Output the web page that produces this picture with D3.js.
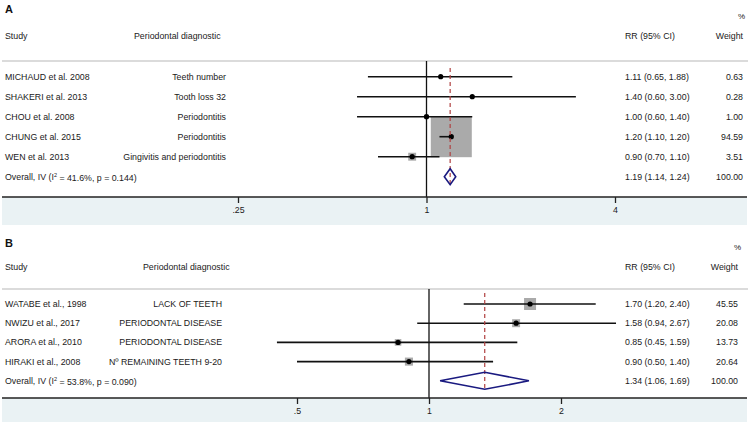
<!DOCTYPE html>
<html><head><meta charset="utf-8">
<script src="https://cdn.jsdelivr.net/npm/d3@7"></script>
<style>
html,body{margin:0;padding:0;background:#fff;}
text{font-family:"Liberation Sans",Arial,Helvetica,sans-serif;fill:#1a1a1a;}
</style></head>
<body><svg id="c" width="750" height="423"></svg>
<script>
// ---------- Panel A data ----------
const studiesA = ["MICHAUD et al. 2008","SHAKERI et al. 2013","CHOU et al. 2008","CHUNG et al. 2015","WEN et al. 2013"];
const diagA = ["Teeth number","Tooth loss 32","Periodontitis","Periodontitis","Gingivitis and periodontitis"];
const rrA = [1.11,1.40,1.00,1.20,0.90];
const loA = [0.65,0.60,0.60,1.10,0.70];
const hiA = [1.88,3.00,1.40,1.20,1.10];
const weightA = [0.63,0.28,1.00,94.59,3.51];
const overallA = {i2:"41.6%", p:"0.144", rr:1.19, lo:1.14, hi:1.24, weight:100.00};
const ticksA = [0.25,1,4];
const tickLabelsA = [".25","1","4"];

// ---------- Panel B data ----------
const studiesB = ["WATABE et al., 1998","NWIZU et al., 2017","ARORA et al., 2010","HIRAKI et al., 2008"];
const diagB = ["LACK OF TEETH","PERIODONTAL DISEASE","PERIODONTAL DISEASE","Nº REMAINING TEETH 9-20"];
const rrB = [1.70,1.58,0.85,0.90];
const loB = [1.20,0.94,0.45,0.50];
const hiB = [2.40,2.67,1.59,1.40];
const weightB = [45.55,20.08,13.73,20.64];
const overallB = {i2:"53.8%", p:"0.090", rr:1.34, lo:1.06, hi:1.69, weight:100.00};
const ticksB = [0.5,1,2];
const tickLabelsB = [".5","1","2"];

const svg = d3.select("#c");
const fmt = d3.format(".2f");
const FS = 8.8;

function panel(cfg){
  const g = svg.append("g");
  const n = cfg.studies.length;
  const x = d3.scaleLog().base(2).domain(cfg.domain).range(cfg.range);
  const y = i => cfg.row0 + i*cfg.step;
  const yO = y(n);
  const box = d3.scaleSqrt().domain([0, d3.max(cfg.weight)]).range([0, cfg.boxMax]);

  g.append("rect").attr("x",2).attr("y",cfg.axisY).attr("width",745).attr("height",cfg.bandH).attr("fill","#eaf2f4");

  g.append("text").attr("x",5).attr("y",cfg.letterY).attr("dy","0.35em")
    .style("font-size","11px").style("font-weight","bold").style("fill","#111").text(cfg.letter);
  g.append("text").attr("x",cfg.pctX).attr("y",cfg.pctY).attr("dy","0.35em").attr("text-anchor","end")
    .style("font-size","8px").text("%");
  const hd = [["Study",5,"start"],["Periodontal diagnostic",cfg.diagHX,"start"],["RR (95% CI)",625,"start"],["Weight",cfg.wX,"end"]];
  hd.forEach(h=>g.append("text").attr("x",h[1]).attr("y",cfg.headY).attr("dy","0.35em")
    .attr("text-anchor",h[2]).style("font-size",FS+"px").text(h[0]));
  g.append("line").attr("x1",2).attr("x2",748).attr("y1",cfg.sepY).attr("y2",cfg.sepY)
    .attr("stroke","#cfcfcf").attr("stroke-width",1.5);

  g.append("line").attr("x1",x(1)).attr("x2",x(1)).attr("y1",cfg.sepY).attr("y2",cfg.axisY)
    .attr("stroke","#111").attr("stroke-width",1.3);

  cfg.weight.forEach((w,i)=>{
    const s = box(w);
    g.append("rect").attr("x",x(cfg.rr[i])-s/2).attr("y",y(i)-s/2).attr("width",s).attr("height",s)
      .attr("fill","#aaaaaa");
  });
  cfg.rr.forEach((r,i)=>{
    g.append("line").attr("x1",x(cfg.lo[i])).attr("x2",x(cfg.hi[i])).attr("y1",y(i)).attr("y2",y(i))
      .attr("stroke","#111").attr("stroke-width",1.6);
    g.append("circle").attr("cx",x(r)).attr("cy",y(i)).attr("r",2.6).attr("fill","#000");
  });
  g.append("line").attr("x1",x(cfg.overall.rr)).attr("x2",x(cfg.overall.rr))
    .attr("y1",cfg.dashTop).attr("y2",yO+cfg.diamH/2+1)
    .attr("stroke","#b04040").attr("stroke-width",1.2).attr("stroke-dasharray","4,3");
  const o = cfg.overall, h = cfg.diamH/2;
  g.append("path").attr("d",`M${x(o.lo)},${yO}L${x(o.rr)},${yO-h}L${x(o.hi)},${yO}L${x(o.rr)},${yO+h}Z`)
    .attr("fill","none").attr("stroke","#1a1a80").attr("stroke-width",1.6);

  cfg.studies.forEach((s,i)=>{
    g.append("text").attr("x",5).attr("y",y(i)).attr("dy","0.35em").style("font-size",FS+"px").text(s);
    g.append("text").attr("x",cfg.diagX).attr("y",y(i)).attr("dy","0.35em").attr("text-anchor","end")
      .style("font-size",FS+"px").text(cfg.diag[i]);
    g.append("text").attr("x",625).attr("y",y(i)).attr("dy","0.35em").style("font-size",FS+"px")
      .text(`${fmt(cfg.rr[i])} (${fmt(cfg.lo[i])}, ${fmt(cfg.hi[i])})`);
    g.append("text").attr("x",cfg.wX).attr("y",y(i)).attr("dy","0.35em").attr("text-anchor","end")
      .style("font-size",FS+"px").text(fmt(cfg.weight[i]));
  });
  const ot = g.append("text").attr("x",5).attr("y",yO).attr("dy","0.35em").style("font-size",FS+"px");
  ot.append("tspan").text("Overall, IV (I");
  ot.append("tspan").attr("dy","-0.45em").style("font-size","5.5px").text("2");
  ot.append("tspan").attr("dy","0.45em").text(` = ${o.i2}, p = ${o.p})`);
  g.append("text").attr("x",625).attr("y",yO).attr("dy","0.35em").style("font-size",FS+"px")
    .text(`${fmt(o.rr)} (${fmt(o.lo)}, ${fmt(o.hi)})`);
  g.append("text").attr("x",cfg.wX).attr("y",yO).attr("dy","0.35em").attr("text-anchor","end")
    .style("font-size",FS+"px").text(fmt(o.weight));

  g.append("line").attr("x1",2).attr("x2",747).attr("y1",cfg.axisY).attr("y2",cfg.axisY)
    .attr("stroke","#222").attr("stroke-width",1.6);
  const ax = g.append("g").attr("transform",`translate(0,${cfg.axisY})`)
    .call(d3.axisBottom(x).tickValues(cfg.ticks).tickSize(6).tickPadding(4)
      .tickFormat((d,i)=>cfg.tickLabels[i]));
  ax.select(".domain").remove();
  ax.selectAll(".tick line").attr("stroke","#222").attr("stroke-width",1.3);
  ax.selectAll(".tick text").style("font-size",FS+"px").style("font-family","Liberation Sans, Arial, sans-serif").attr("fill","#222");
}

panel({letter:"A", studies:studiesA, diag:diagA, rr:rrA, lo:loA, hi:hiA, weight:weightA, overall:overallA,
  ticks:ticksA, tickLabels:tickLabelsA, domain:[0.25,4], range:[238,615],
  row0:76.7, step:20, axisY:197, bandH:28, letterY:8.7, pctY:16, pctX:745, headY:36, sepY:61,
  diagHX:134, diagX:226, wX:743, boxMax:41, dashTop:68, diamH:16});

panel({letter:"B", studies:studiesB, diag:diagB, rr:rrB, lo:loB, hi:hiB, weight:weightB, overall:overallB,
  ticks:ticksB, tickLabels:tickLabelsB, domain:[0.5,2], range:[297,561],
  row0:304, step:19.2, axisY:398, bandH:24, letterY:242.7, pctY:247.3, pctX:741, headY:266.7, sepY:289,
  diagHX:143, diagX:222, wX:738, boxMax:12, dashTop:293, diamH:17});
</script></body></html>
